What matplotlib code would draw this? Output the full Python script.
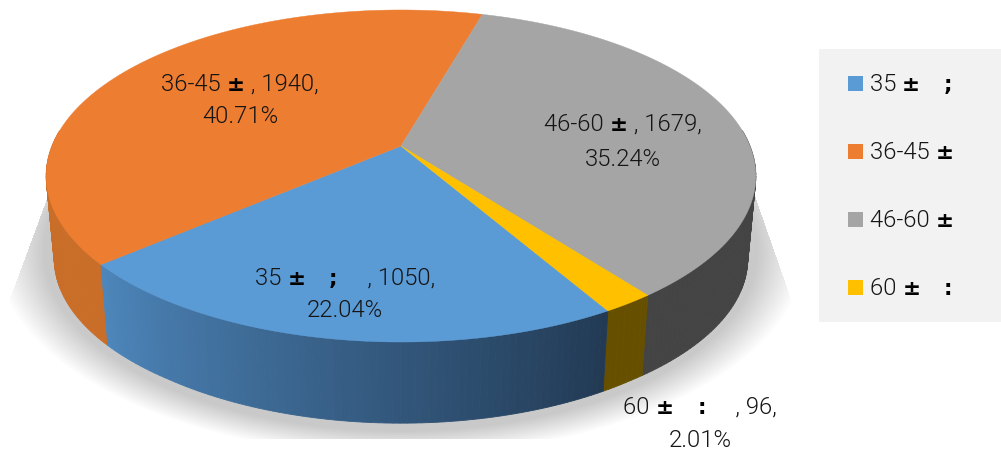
import re
import numpy as np
import matplotlib
matplotlib.use('Agg')
import matplotlib.pyplot as plt
from matplotlib.colors import to_rgb

# data
categories = ['35 ±    ;', '36-45 ±', '46-60 ±', '60 ±    :']
counts = [1050, 1940, 1679, 96]
percents = ['22.04%', '40.71%', '35.24%', '2.01%']
# gap left behind after the category name in the data labels
label_gaps = ['     ', ' ', ' ', '     ']

top_colors = ['#5b9bd5', '#ed7d31', '#a5a5a5', '#ffc000']
# wall colours, start and end of each slice going clockwise
side_start = ['#223a54', '#c96e28', '#444444', '#665000']
side_end = ['#4d86bb', '#c96e28', '#444444', '#665000']

label_xy = [(345, 276), (240, 82), (623, 122), (700, 405)]
percent_xy = [(345, 309), (240, 115), (623, 158), (700, 439)]
legend_y = [84, 152, 220, 288]

fig = plt.figure(figsize=(10.01, 4.5), dpi=100)
ax = fig.add_axes([0, 0, 1, 1])
ax.set_xlim(0, 1001)
ax.set_ylim(450, 0)
ax.axis('off')


# disc seen in perspective, angle clockwise from the top
def top_disc(a):
    u, v = np.sin(a), np.cos(a)
    w = 1 + 0.1807 * v
    return 401 + 349 * u / w, 146 - 160.6 * v / w


def low_disc(a):
    x, y = top_disc(a)
    return 401 + 0.977 * (x - 401), 0.977 * y + 87 + 2 * np.clip((y - 300) / 42, 0, 1)


# soft shadow under the pie, cut flat at the bottom
gx, gy = np.meshgrid(np.arange(1001), np.arange(450))
r = np.sqrt(((gx - 400) / 405.0) ** 2 + ((gy - 250) / 205.0) ** 2)
alpha = np.clip((1.0 - r) / 0.12, 0, 1)
left_edge = 47 - (gy - 197) * 37 / 100.0
right_edge = 755 + (gy - 197) * 35 / 100.0
alpha[(gx < left_edge) | (gx > right_edge) | (gy < 197) | (gy > 438)] = 0
shadow = np.ones((450, 1001, 4))
shadow[..., :3] = 0.79
shadow[..., 3] = alpha
ax.imshow(shadow, extent=(0, 1001, 450, 0), aspect='auto', zorder=1)

# slice angles
fractions = np.array(counts) / sum(counts)
start = np.radians(150)
edges = start + 2 * np.pi * np.concatenate([[0], np.cumsum(fractions)])

# side wall, far pieces first, the back part can't be seen
pieces = []
for i in range(len(counts)):
    steps = np.linspace(edges[i], edges[i + 1], max(int(np.degrees(edges[i + 1] - edges[i])), 2) + 1)
    for j in range(len(steps) - 1):
        a0, a1 = steps[j], steps[j + 1]
        pieces.append((np.cos((a0 + a1) / 2), i, a0, a1, j / (len(steps) - 2)))
pieces.sort(key=lambda p: -p[0])
for v, i, a0, a1, t in pieces:
    if v > 0.1:
        continue
    c = (1 - t) * np.array(to_rgb(side_start[i])) + t * np.array(to_rgb(side_end[i]))
    x0, y0 = top_disc(np.array([a0, a1]))
    x1, y1 = low_disc(np.array([a1, a0]))
    ax.fill(np.r_[x0, x1], np.r_[y0, y1], color=c, lw=0.6, zorder=2)

# top face
for i in range(len(counts)):
    a = np.linspace(edges[i], edges[i + 1], 200)
    x, y = top_disc(a)
    ax.fill(np.r_[401, x], np.r_[146, y], color=top_colors[i], lw=0.3, zorder=3)

# legend
ax.fill([819, 1001, 1001, 819], [49, 49, 322, 322], color='#f2f2f2', lw=0, zorder=1)
fig.canvas.draw()
renderer = fig.canvas.get_renderer()


def run_style(p):
    # the garbled marks come out heavier than the digits
    if p[0] in '±;:':
        return dict(family='DejaVu Sans', fontweight='bold', fontsize=15.5, color='black')
    return dict(family='Roboto', fontweight=300, fontsize=17.2, color='#151515')


def run_width(p):
    t = ax.text(0, 0, '|' + p + '|', **run_style(p))
    w0 = t.get_window_extent(renderer).width
    t.set_text('||')
    w1 = t.get_window_extent(renderer).width
    t.remove()
    return w0 - w1


def write_line(s, x, y, center=False):
    runs = re.findall(r'[±;:]+|[^±;:]+', s)
    widths = [run_width(p) for p in runs]
    if center:
        x = x - sum(widths) / 2
    for p, wd in zip(runs, widths):
        ax.text(x, y, p, va='baseline', ha='left', zorder=5, **run_style(p))
        x += wd


for i in range(len(categories)):
    ax.fill([848, 863, 863, 848],
            [legend_y[i] - 8, legend_y[i] - 8, legend_y[i] + 7, legend_y[i] + 7],
            color=top_colors[i], lw=0, zorder=4)
    write_line(categories[i], 870, legend_y[i] + 7)

    lx, ly = label_xy[i]
    write_line(categories[i] + label_gaps[i] + ', ' + str(counts[i]) + ',', lx, ly + 9, center=True)
    px, py = percent_xy[i]
    write_line(percents[i], px, py + 8, center=True)

fig.savefig('out.png', dpi=100)
